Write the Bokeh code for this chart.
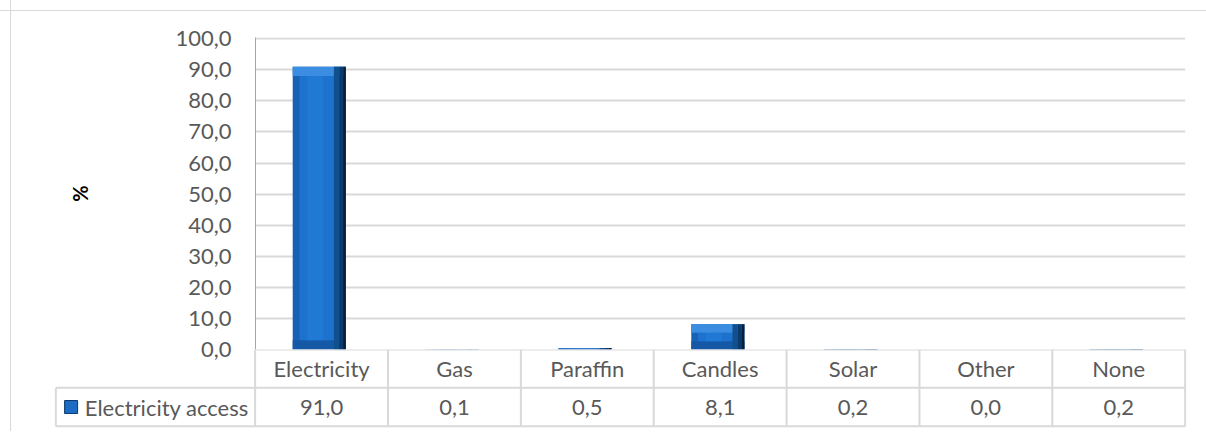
from bokeh.plotting import figure
from bokeh.models import Range1d, FactorRange, FixedTicker, ColumnDataSource, CustomJSTickFormatter
from bokeh.transform import dodge
from bokeh.embed import file_html
from bokeh.resources import INLINE
from bokeh.core.properties import value

# ---- data ----
categories = ["Electricity", "Gas", "Paraffin", "Candles", "Solar", "Other", "None"]
values = [91.0, 0.1, 0.5, 8.1, 0.2, 0.0, 0.2]
series_name = "Electricity access"
y_ticks = [0, 10, 20, 30, 40, 50, 60, 70, 80, 90, 100]
y_title = "%"


def fmt(v):
    return f"{v:.1f}".replace(".", ",")


FONT = "Lato"
TXT = "#595959"
GRID = "#D9D9D9"
FS = "22px"

vline = f"linear-gradient(to right, transparent 10px, {GRID} 10px, {GRID} 11px, transparent 11px)"
hline = f"linear-gradient(to bottom, transparent 10px, {GRID} 10px, {GRID} 11px, transparent 11px)"

# outer chart border (top + left edge) drawn as CSS backgrounds
chart_style = {"background-image": f"{vline}, {hline}", "background-repeat": "no-repeat",
               "margin-bottom": "-14px"}
table_style = {"background-image": vline, "background-repeat": "no-repeat"}

# ---- main chart ----
off = -0.02
bevel = [min(3.0, v * 0.33) for v in values]
src = ColumnDataSource(dict(
    cat=categories,
    val=values,
    face_bottom=bevel,
    face_top=[v - b for v, b in zip(values, bevel)],
))

p = figure(width=1206, height=363, x_range=FactorRange(*categories), y_range=Range1d(0, 100.4),
           output_backend="svg", toolbar_location=None,
           min_border_left=255, min_border_right=21, min_border_top=37, min_border_bottom=14,
           styles=chart_style)
p.outline_line_color = None
p.border_fill_color = None
p.background_fill_color = "white"
p.xaxis.visible = False
p.xgrid.grid_line_color = None
p.ygrid.ticker = FixedTicker(ticks=y_ticks)
p.ygrid.grid_line_color = GRID
p.ygrid.grid_line_width = 2

ya = p.yaxis[0]
ya.ticker = FixedTicker(ticks=y_ticks)
ya.formatter = CustomJSTickFormatter(code="return tick.toFixed(1).replace('.', ',');")
ya.axis_line_color = "#A6A6A6"
ya.axis_line_width = 1
ya.major_tick_line_color = None
ya.minor_tick_line_color = None
ya.major_tick_out = 0
ya.major_tick_in = 0
ya.major_label_standoff = 24
ya.major_label_text_font = FONT
ya.major_label_text_font_size = FS
ya.major_label_text_color = TXT
ya.axis_label = y_title
ya.axis_label_text_font = FONT
ya.axis_label_text_font_style = "bold"
ya.axis_label_text_font_size = "20px"
ya.axis_label_text_color = "black"
ya.axis_label_standoff = 80


# bar layers (bevelled look)
def X(d):
    return dodge("cat", off + d, range=p.x_range)


p.vbar(x=X(0), top="val", bottom=0, width=0.4, source=src, fill_color="#1762B5", line_color=None)
p.vbar(x=X(0), top="face_bottom", bottom=0, width=0.4, source=src, fill_color="#1559A6", line_color=None)
p.vbar(x=X(0), top="face_top", bottom="face_bottom", width=0.3, source=src,
       fill_color="#1C72CC", line_color=None)
p.vbar(x=X(-0.03), top="face_top", bottom="face_bottom", width=0.12, source=src,
       fill_color="#2079D4", line_color=None)
p.vbar(x=X(0), top="val", bottom="face_top", width=0.4, source=src, fill_color="#3A8DE0", line_color=None)
p.vbar(x=X(0.13), top="val", bottom=0, width=0.04, source=src, fill_color="#11508F", line_color=None)
p.vbar(x=X(0.165), top="val", bottom=0, width=0.03, source=src, fill_color="#0B3A6B", line_color=None)
p.vbar(x=X(0.19), top="val", bottom=0, width=0.02, source=src, fill_color="#061F3D", line_color=None)

# ---- data table ----
n = len(categories)
t = figure(width=1206, height=82, x_range=Range1d(-1.51, n + 0.01), y_range=Range1d(-0.06, 2.0),
           output_backend="svg", toolbar_location=None,
           min_border_left=54, min_border_right=20, min_border_top=0, min_border_bottom=3,
           styles=table_style)
t.outline_line_color = None
t.border_fill_color = None
t.background_fill_color = None
t.xaxis.visible = False
t.yaxis.visible = False
t.grid.grid_line_color = None

xs0 = [i for i in range(n + 1)] + [-1.5, 0, -1.5, -1.5]
xs1 = [i for i in range(n + 1)] + [-1.5, n, n, n]
ys0 = [0] * (n + 1) + [0, 2, 1, 0]
ys1 = [2] * (n + 1) + [1, 2, 1, 0]
t.segment(x0=xs0, y0=ys0, x1=xs1, y1=ys1, line_color=GRID, line_width=2)

cx = [i + 0.5 for i in range(n)]
t.text(x=cx, y=[1.5] * n, text=categories, text_align="center", text_baseline="middle",
       text_font=value(FONT), text_font_size=FS, text_color=TXT)
t.text(x=cx, y=[0.5] * n, text=[fmt(v) for v in values], text_align="center", text_baseline="middle",
       text_font=value(FONT), text_font_size=FS, text_color=TXT)
t.text(x=[-1.282], y=[0.5], text=[series_name], text_align="left", text_baseline="middle",
       text_font=value(FONT), text_font_size=FS, text_color=TXT)
t.scatter(x=[-1.385], y=[0.5], marker="square", size=13, fill_color="#1B6CC2", line_color="#0B3A6B",
          line_width=1)

open("out.html", "w").write(file_html([p, t], INLINE))
